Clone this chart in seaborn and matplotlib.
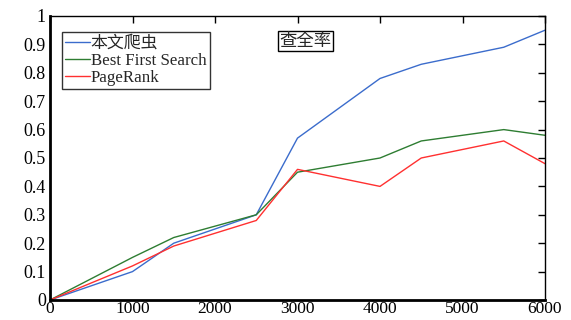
"""
Recall curve (查全率) of three crawling strategies
"""

import matplotlib
matplotlib.use("Agg")
import matplotlib.pyplot as plt
import pandas as pd
import seaborn as sns

# Data
pages = [0, 1000, 1500, 2500, 3000, 4000, 4500, 5500, 6000]
ours = [0, 0.10, 0.20, 0.30, 0.57, 0.78, 0.83, 0.89, 0.95]
best_first = [0, 0.15, 0.22, 0.30, 0.45, 0.50, 0.56, 0.60, 0.58]
pagerank = [0, 0.12, 0.19, 0.28, 0.46, 0.40, 0.50, 0.56, 0.48]
series_names = ["本文爬虫", "Best First Search", "PageRank"]
colors = ["#3b6ccc", "#2e7d32", "#ff3030"]

sns.set_theme(style="white")
plt.rcParams["font.family"] = ["Liberation Serif", "Noto Sans CJK SC"]
plt.rcParams["axes.unicode_minus"] = False

df = pd.DataFrame({"pages": pages, series_names[0]: ours,
                   series_names[1]: best_first, series_names[2]: pagerank})
long_df = df.melt(id_vars="pages", var_name="method", value_name="recall")

fig = plt.figure(figsize=(5.71, 3.2), dpi=100)
# leave just enough room under the axis for the x tick labels
ax = fig.add_axes([50 / 571, 20 / 320, 495 / 571, 284 / 320])

sns.lineplot(data=long_df, x="pages", y="recall", hue="method",
             hue_order=series_names, palette=colors, linewidth=1.0, ax=ax)

ax.set_xlim(0, 6000)
ax.set_ylim(0, 1)
ax.set_xticks(range(0, 6001, 1000))
ax.set_yticks([i / 10 for i in range(11)])
ax.set_yticklabels(["0"] + [f"{i / 10:.1f}" for i in range(1, 10)] + ["1"])
ax.set_xlabel("")
ax.set_ylabel("")
ax.tick_params(direction="in", length=5, width=1, labelsize=13,
               top=True, right=True, colors="black")
ax.tick_params(axis="x", pad=0.5, labelsize=12.5)
ax.tick_params(axis="y", pad=3)
for side, sp in ax.spines.items():
    sp.set_color("black")
    sp.set_linewidth(2.0 if side in ("left", "bottom") else 1.0)

leg = ax.legend(loc="upper left", bbox_to_anchor=(0.024, 0.942), fontsize=12.2,
                frameon=True, fancybox=False, handlelength=1.45,
                handletextpad=0.05, borderpad=0.2, labelspacing=0.05,
                borderaxespad=0)
leg.get_frame().set_edgecolor("black")
leg.get_frame().set_linewidth(1.0)

ax.text(0.517, 0.912, "查全率", transform=ax.transAxes, ha="center", va="center",
        fontsize=12.5, family=["Noto Sans CJK SC", "DejaVu Sans"],
        bbox=dict(boxstyle="square,pad=0.08", fc="white", ec="black", lw=1))

fig.savefig("out.png", dpi=100)
